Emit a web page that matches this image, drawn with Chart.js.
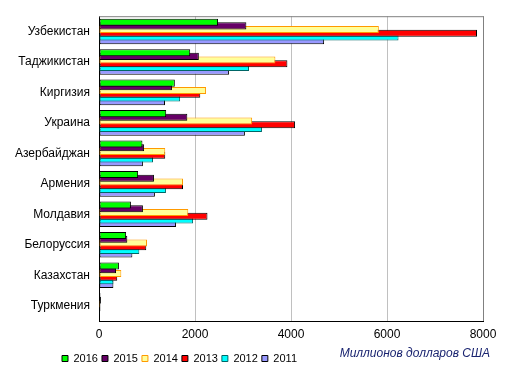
<!DOCTYPE html>
<html><head><meta charset="utf-8">
<script src="https://cdn.jsdelivr.net/npm/chart.js@4"></script>
<style>html,body{margin:0;padding:0;background:#fff}#wrap{width:513px;height:376px}</style>
</head><body><div id="wrap"><canvas id="c" width="513" height="376"></canvas></div>
<script>
const categories = ['Узбекистан','Таджикистан','Киргизия','Украина','Азербайджан','Армения','Молдавия','Белоруссия','Казахстан','Туркмения'];
const years = ['2016','2015','2014','2013','2012','2011'];
const v2016 = [2480, 1900, 1580, 1400, 905, 815, 665, 565, 415, 30];
const v2015 = [3070, 2080, 1520, 1840, 940, 1145, 915, 590, 355, 40];
const v2014 = [5830, 3675, 2230, 3190, 1380, 1750, 1860, 1000, 465, 20];
const v2013 = [7875, 3925, 2110, 4085, 1380, 1750, 2260, 985, 380, 30];
const v2012 = [6240, 3125, 1690, 3395, 1125, 1395, 1960, 840, 300, 15];
const v2011 = [4690, 2710, 1375, 3040, 915, 1165, 1605, 695, 300, 20];
const xTicks = [0, 2000, 4000, 6000, 8000];
const axisTitle = 'Миллионов долларов США';

const seriesValues = [v2016, v2015, v2014, v2013, v2012, v2011];
const fills = ['#00FF00', '#660066', '#FFFF99', '#FF0000', '#00FFFF', '#9999FF'];
const strokes = ['#000000', '#000000', '#FF9900', '#000000', '#006666', '#000000'];
const FONT = '"Liberation Sans", Arial, sans-serif';

const framePlugin = {
  id: 'frame',
  afterLayout(chart) {
    chart.legend.left = 58;
  },
  beforeDatasetsDraw(chart) {
    const {ctx, chartArea: a} = chart;
    ctx.save();
    ctx.strokeStyle = '#808080';
    ctx.lineWidth = 1;
    ctx.beginPath();
    ctx.moveTo(a.left, a.top + 0.5);
    ctx.lineTo(a.right + 0.5, a.top + 0.5);
    ctx.lineTo(a.right + 0.5, a.bottom);
    ctx.stroke();
    ctx.restore();
  },
  afterDraw(chart) {
    const ctx = chart.ctx;
    ctx.save();
    ctx.font = 'italic 12px ' + FONT;
    ctx.fillStyle = '#1a2470';
    ctx.textAlign = 'right';
    ctx.textBaseline = 'middle';
    ctx.fillText(axisTitle, 490, 354);
    ctx.restore();
  }
};

new Chart(document.getElementById('c'), {
  type: 'bar',
  data: {
    labels: categories,
    datasets: years.map((y, i) => ({
      label: y,
      data: seriesValues[i],
      backgroundColor: fills[i],
      borderColor: strokes[i],
      borderWidth: 1,
      borderSkipped: false,
      categoryPercentage: 0.73,
      barPercentage: 1.9
    }))
  },
  options: {
    indexAxis: 'y',
    responsive: false,
    animation: false,
    layout: {padding: {top: 14, right: 30, bottom: 2, left: 0}},
    plugins: {
      legend: {
        position: 'bottom',
        align: 'start',
        labels: {
          boxWidth: 6, boxHeight: 6, padding: 4,
          color: '#000', font: {family: FONT, size: 11}
        }
      },
      tooltip: {enabled: false}
    },
    scales: {
      x: {
        min: 0, max: 8000,
        afterBuildTicks(scale) { scale.ticks = xTicks.map(v => ({value: v})); },
        afterFit(scale) { scale.height = 28; },
        ticks: {color: '#000', font: {family: FONT, size: 12}, padding: 6, callback: v => String(v)},
        grid: {
          color: ctx => (ctx.tick && ctx.tick.value === 8000) ? '#808080' : '#C0C0C0',
          drawTicks: false
        },
        border: {color: '#000', width: 1}
      },
      y: {
        afterFit(scale) { scale.width = 99; },
        ticks: {color: '#000', font: {family: FONT, size: 12}, padding: 9},
        grid: {display: false, drawTicks: false},
        border: {color: '#000', width: 1}
      }
    }
  },
  plugins: [framePlugin]
});
</script>
</body></html>
